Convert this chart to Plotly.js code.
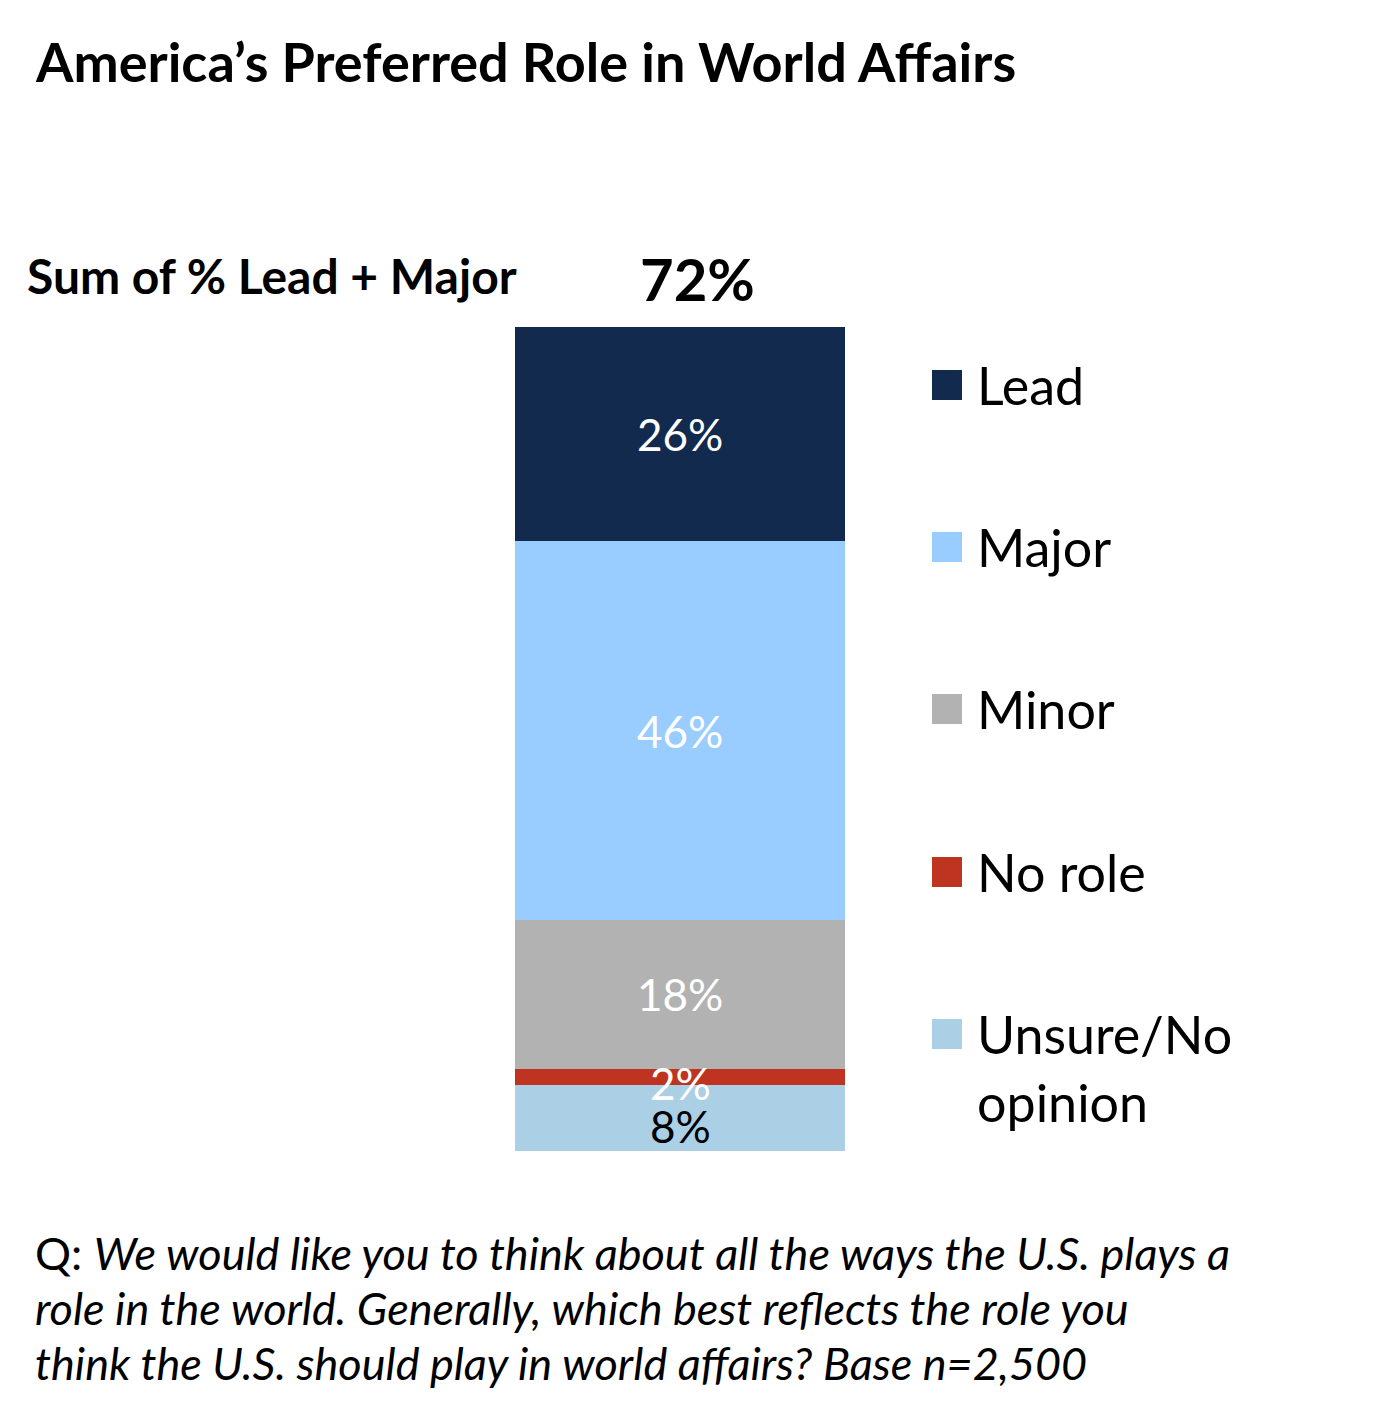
<!DOCTYPE html>
<html>
<head>
<meta charset="utf-8">
<script src="https://cdn.plot.ly/plotly-3.0.1.min.js"></script>
<style>
html,body{margin:0;padding:0;background:#fff;}
#chart{width:1379px;height:1418px;}
</style>
</head>
<body>
<div id="chart"></div>
<script>
// ---- data ----
var categories = ["Unsure/No opinion", "No role", "Minor", "Major", "Lead"];
var legendLabels = ["Unsure/No<br>opinion", "No role", "Minor", "Major", "Lead"];
var values = [8, 2, 18, 46, 26];
var colors = ["#abcfe5", "#bf3421", "#b2b2b2", "#99ccff", "#112a4e"];
var labelColors = ["#000000", "#ffffff", "#ffffff", "#ffffff", "#ffffff"];
var labelShift = [-8, -6, 0, 0, 0];
var sumLabel = "72%";
var titleText = "America\u2019s Preferred Role in World Affairs";
var sumText = "Sum of % Lead + Major";
var footnoteLines = [
  "Q: <i>We would like you to think about all the ways the U.S. plays a</i>",
  "<i>role in the world. Generally, which best reflects the role you</i>",
  "<i>think the U.S. should play in world affairs? Base n=2,500</i>"
];

// ---- geometry helpers (pixel -> paper) ----
var W = 1379, H = 1418;
var L = 515, R = 845, T = 327, B = 1151;
function px(x){ return (x - L) / (R - L); }
function py(y){ return (B - y) / (B - T); }

var FONT = "Lato, 'Open Sans', sans-serif";

var traces = categories.map(function(c, i){
  return {
    type: "bar",
    name: c,
    x: [0],
    y: [values[i]],
    width: [1],
    marker: {color: colors[i], line: {width: 0}},
    showlegend: false,
    hoverinfo: "name+y"
  };
});

var annotations = [];
// segment labels
var cum = 0;
values.forEach(function(v, i){
  annotations.push({
    xref: "x", yref: "y", x: 0, y: cum + v / 2,
    text: v + "%", showarrow: false,
    xanchor: "center", yanchor: "middle", yshift: labelShift[i],
    font: {family: FONT, size: 44, color: labelColors[i]}
  });
  cum += v;
});

// title
annotations.push({
  xref: "paper", yref: "paper", x: px(33), y: py(61),
  xanchor: "left", yanchor: "middle", showarrow: false,
  text: "<b>" + titleText + "</b>",
  font: {family: FONT, size: 54, color: "#000"}
});
// sum label
annotations.push({
  xref: "paper", yref: "paper", x: px(25), y: py(275),
  xanchor: "left", yanchor: "middle", showarrow: false,
  text: "<b>" + sumText + "</b>",
  font: {family: FONT, size: 48, color: "#000"}
});
annotations.push({
  xref: "paper", yref: "paper", x: px(697), y: py(278),
  xanchor: "center", yanchor: "middle", showarrow: false,
  text: "<b>" + sumLabel + "</b>",
  font: {family: FONT, size: 58, color: "#000"}
});

// legend (custom)
var legendY = [1068, 872, 709, 547, 385];
var squareY = [1034, 872, 709, 547, 385];
var shapes = [];
categories.forEach(function(c, i){
  shapes.push({
    type: "rect", xref: "paper", yref: "paper",
    x0: px(932), x1: px(962), y0: py(squareY[i] + 15), y1: py(squareY[i] - 15),
    fillcolor: colors[i], line: {width: 0}
  });
  annotations.push({
    xref: "paper", yref: "paper", x: px(975), y: py(legendY[i]),
    xanchor: "left", yanchor: "middle", align: "left", showarrow: false,
    text: legendLabels[i],
    font: {family: FONT, size: 52, color: "#000"}
  });
});

// footnote, one annotation per line
var footY = [1253, 1308, 1363];
footnoteLines.forEach(function(t, i){
  annotations.push({
    xref: "paper", yref: "paper", x: px(33), y: py(footY[i]),
    xanchor: "left", yanchor: "middle", align: "left", showarrow: false,
    text: t,
    font: {family: FONT, size: 45, color: "#000"}
  });
});

var layout = {
  width: W, height: H,
  margin: {l: L, r: W - R, t: T, b: H - B, pad: 0},
  paper_bgcolor: "#fff", plot_bgcolor: "#fff",
  barmode: "stack", bargap: 0,
  showlegend: false,
  xaxis: {range: [-0.5, 0.5], visible: false, fixedrange: true},
  yaxis: {range: [0, 100], visible: false, fixedrange: true},
  annotations: annotations,
  shapes: shapes
};

Plotly.newPlot("chart", traces, layout, {displayModeBar: false, staticPlot: true});
</script>
</body>
</html>
